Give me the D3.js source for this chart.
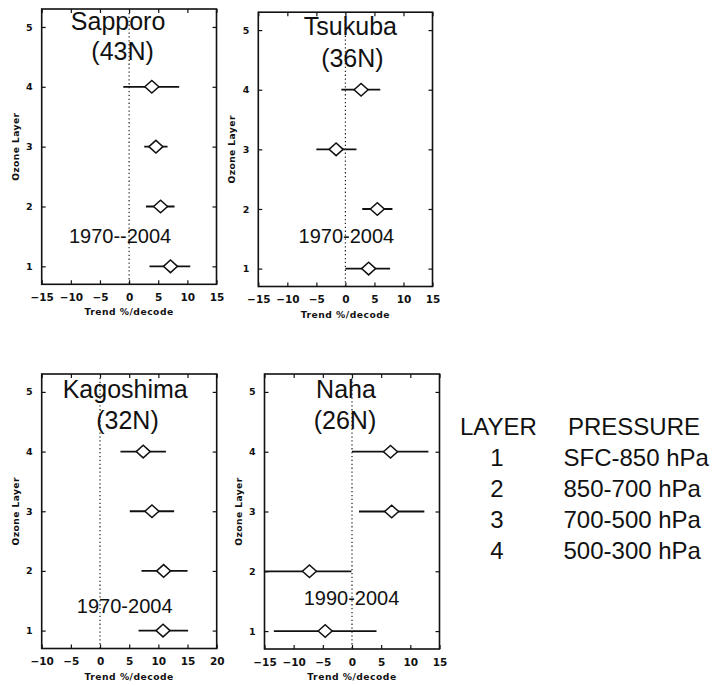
<!DOCTYPE html>
<html>
<head>
<meta charset="utf-8">
<script src="https://cdn.jsdelivr.net/npm/d3@7"></script>
<style>
  html, body { margin: 0; padding: 0; background: #fff; }
  svg { display: block; }
</style>
</head>
<body>
<svg id="chart" width="723" height="686"></svg>
<script>
// Ozone trend (% per decade) with uncertainty ranges, per layer and station
const stations = ["Sapporo", "Tsukuba", "Kagoshima", "Naha"];
const latitudes = ["(43N)", "(36N)", "(32N)", "(26N)"];
const periods = ["1970--2004", "1970-2004", "1970-2004", "1990-2004"];
const layers = [1, 2, 3, 4];

// central trend for layers 1..4
const trendSapporo   = [7.1, 5.4, 4.6, 3.9];
const trendTsukuba   = [4.0, 5.5, -1.6, 2.7];
const trendKagoshima = [10.8, 10.9, 8.9, 7.4];
const trendNaha      = [-4.6, -7.3, 6.8, 6.6];

// lower / upper ends of the range for layers 1..4
const lowSapporo   = [3.5, 2.9, 2.6, -1.0];
const highSapporo  = [10.5, 7.8, 6.6, 8.6];
const lowTsukuba   = [0.0, 2.9, -5.0, -0.7];
const highTsukuba  = [7.7, 8.1, 1.9, 6.0];
const lowKagoshima = [6.6, 7.1, 5.1, 3.5];
const highKagoshima= [15.1, 15.0, 12.7, 11.3];
const lowNaha      = [-13.4, -15.0, 1.2, 0.0];
const highNaha     = [4.2, -0.1, 12.4, 13.1];

const xTicksA = [-15, -10, -5, 0, 5, 10, 15];
const xTicksB = [-10, -5, 0, 5, 10, 15, 20];
const yTicks = [1, 2, 3, 4, 5];

const legendLayers = ["1", "2", "3", "4"];
const legendPressure = ["SFC-850 hPa", "850-700 hPa", "700-500 hPa", "500-300 hPa"];

const trends = [trendSapporo, trendTsukuba, trendKagoshima, trendNaha];
const lows = [lowSapporo, lowTsukuba, lowKagoshima, lowNaha];
const highs = [highSapporo, highTsukuba, highKagoshima, highNaha];
const xDomains = [[-15, 15], [-15, 15], [-10, 20], [-15, 15]];
const xTickSets = [xTicksA, xTicksA, xTicksB, xTicksA];
const periodY = [1.39, 1.43, 1.29, 1.44];

// panel frames and title placement
const frames = [
  { l: 41.7, r: 216.5, t: 9, b: 284.3, t1dx: -11, t2dx: -6.5, t1y: 20.5, t2y: 50.5, pdx: -9 },
  { l: 258.3, r: 432.5, t: 12.2, b: 286.5, t1dx: 5, t2dx: 7, t1y: 23, t2y: 54.5, pdx: 1 },
  { l: 41.7, r: 216.7, t: 374, b: 648.5, t1dx: -4, t2dx: -1.7, t1y: 23.7, t2y: 55, pdx: -4.5 },
  { l: 264.5, r: 439.5, t: 374, b: 649, t1dx: -6, t2dx: -7, t1y: 23.7, t2y: 55, pdx: -0.5 }
];

const ink = "#111";
const svg = d3.select("#chart");

stations.forEach((name, i) => {
  const f = frames[i];
  const x = d3.scaleLinear().domain(xDomains[i]).range([f.l, f.r]);
  const y = d3.scaleLinear().domain([0.7, 5.3]).range([f.b, f.t]);
  const g = svg.append("g");
  const cx = (f.l + f.r) / 2;

  const clipId = "clip" + i;
  g.append("clipPath").attr("id", clipId)
    .append("rect").attr("x", f.l).attr("y", f.t)
    .attr("width", f.r - f.l).attr("height", f.b - f.t);

  // axes: ticks inward on all four sides
  const tickLen = 4;
  g.append("g").attr("transform", `translate(0,${f.b})`)
    .call(d3.axisBottom(x).tickValues(xTickSets[i]).tickSizeInner(-tickLen).tickSizeOuter(0).tickPadding(9)
      .tickFormat(d => d < 0 ? "\u2212" + Math.abs(d) : d))
    .call(a => a.select(".domain").remove())
    .call(a => a.selectAll("text").attr("font-family", "DejaVu Sans").attr("font-weight", "bold")
      .attr("font-size", 10.5).attr("fill", ink).attr("dy", "0.75em"))
    .call(a => a.selectAll("line").attr("stroke", ink).attr("stroke-width", 1.2));
  g.append("g").attr("transform", `translate(0,${f.t})`)
    .call(d3.axisTop(x).tickValues(xTickSets[i]).tickSizeInner(-tickLen).tickSizeOuter(0).tickFormat(""))
    .call(a => a.select(".domain").remove())
    .call(a => a.selectAll("line").attr("stroke", ink).attr("stroke-width", 1.2));
  g.append("g").attr("transform", `translate(${f.l},0)`)
    .call(d3.axisLeft(y).tickValues(yTicks).tickSizeInner(-tickLen).tickSizeOuter(0).tickPadding(9)
      .tickFormat(d3.format("d")))
    .call(a => a.select(".domain").remove())
    .call(a => a.selectAll("text").attr("font-family", "DejaVu Sans").attr("font-weight", "bold")
      .attr("font-size", 9.5).attr("fill", ink))
    .call(a => a.selectAll("line").attr("stroke", ink).attr("stroke-width", 1.2));
  g.append("g").attr("transform", `translate(${f.r},0)`)
    .call(d3.axisRight(y).tickValues(yTicks).tickSizeInner(-tickLen).tickSizeOuter(0).tickFormat(""))
    .call(a => a.select(".domain").remove())
    .call(a => a.selectAll("line").attr("stroke", ink).attr("stroke-width", 1.2));

  // frame
  g.append("rect").attr("x", f.l).attr("y", f.t)
    .attr("width", f.r - f.l).attr("height", f.b - f.t)
    .attr("fill", "none").attr("stroke", ink).attr("stroke-width", 1.6);

  // zero line
  g.append("line").attr("x1", x(0)).attr("x2", x(0)).attr("y1", f.t).attr("y2", f.b)
    .attr("stroke", "#222").attr("stroke-width", 1.2).attr("stroke-dasharray", "1.3,2.6");

  // axis labels
  g.append("text").attr("x", cx).attr("y", f.b + 31)
    .attr("text-anchor", "middle").attr("font-family", "DejaVu Sans").attr("font-weight", "bold")
    .attr("font-size", 9.2).attr("letter-spacing", 0.5).attr("fill", ink).text("Trend %/decode");
  g.append("text")
    .attr("transform", `translate(${f.l - 23},${(f.t + f.b) / 2}) rotate(-90)`)
    .attr("text-anchor", "middle").attr("font-family", "DejaVu Sans").attr("font-weight", "bold")
    .attr("font-size", 9.2).attr("letter-spacing", 0.4).attr("fill", ink).text("Ozone Layer");

  // titles
  g.append("text").attr("x", cx + f.t1dx).attr("y", f.t + f.t1y)
    .attr("text-anchor", "middle").attr("font-family", "Liberation Sans, Arial, sans-serif")
    .attr("font-size", 25).attr("fill", ink).text(name);
  g.append("text").attr("x", cx + f.t2dx).attr("y", f.t + f.t2y)
    .attr("text-anchor", "middle").attr("font-family", "Liberation Sans, Arial, sans-serif")
    .attr("font-size", 25).attr("fill", ink).text(latitudes[i]);
  g.append("text").attr("x", cx + f.pdx).attr("y", y(periodY[i]))
    .attr("text-anchor", "middle").attr("font-family", "Liberation Sans, Arial, sans-serif")
    .attr("font-size", 20).attr("fill", ink).text(periods[i]);

  // error bars and diamonds
  const rows = layers.map((L, k) => ({ L, v: trends[i][k], lo: lows[i][k], hi: highs[i][k] }));
  const marks = g.append("g").attr("clip-path", `url(#${clipId})`);
  marks.selectAll("line.err").data(rows).join("line").attr("class", "err")
    .attr("x1", d => x(d.lo)).attr("x2", d => x(d.hi))
    .attr("y1", d => y(d.L)).attr("y2", d => y(d.L))
    .attr("stroke", ink).attr("stroke-width", 1.8);
  const hw = 7, hh = 6.3;
  marks.selectAll("path.dia").data(rows).join("path").attr("class", "dia")
    .attr("transform", d => `translate(${x(d.v)},${y(d.L)})`)
    .attr("d", `M${-hw},0L0,${-hh}L${hw},0L0,${hh}Z`)
    .attr("fill", "#fff").attr("stroke", ink).attr("stroke-width", 1.5);
});

// layer / pressure key
const key = svg.append("g").attr("font-family", "Liberation Sans, Arial, sans-serif")
  .attr("font-size", 24).attr("fill", ink);
key.append("text").attr("x", 460).attr("y", 435).text("LAYER");
key.append("text").attr("x", 568).attr("y", 435).text("PRESSURE");
const rowY = d3.scaleLinear().domain([0, 3]).range([466, 559.3]);
key.selectAll("text.num").data(legendLayers).join("text").attr("class", "num")
  .attr("x", 497).attr("y", (d, k) => rowY(k)).attr("text-anchor", "middle").text(d => d);
key.selectAll("text.prs").data(legendPressure).join("text").attr("class", "prs")
  .attr("x", 563.5).attr("y", (d, k) => rowY(k)).text(d => d);
</script>
</body>
</html>
